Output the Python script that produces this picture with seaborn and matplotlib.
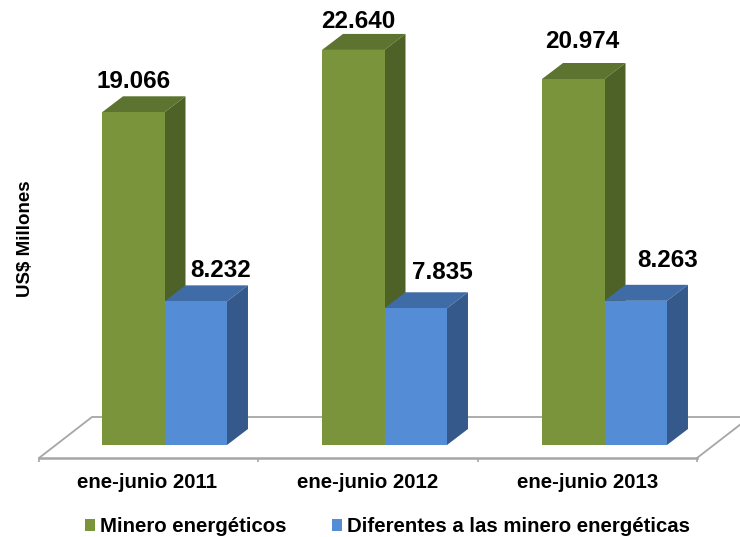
import numpy as np
import pandas as pd
import seaborn as sns
import matplotlib.pyplot as plt
from matplotlib.patches import Polygon

# Chart data
periods = ["ene-junio 2011", "ene-junio 2012", "ene-junio 2013"]
series_names = ["Minero energéticos", "Diferentes a las minero energéticas"]
minero = [19.066, 22.640, 20.974]
diferentes = [8.232, 7.835, 8.263]

# Colours: front, top and side of each series
front_colors = ["#7A943C", "#558CD6"]
top_colors = ["#5D7430", "#3F6CA6"]
side_colors = ["#4E6127", "#35598A"]
floor_color = "#A6A6A6"

# Hand placed offsets of the value labels, in pixels from the top of the bar
label_offsets = [[(0, 31), (5, 28), (9, 38)], [(25, 31), (27, 36), (32, 40)]]

sns.set_theme(style="white")
plt.rcParams["font.family"] = ["Liberation Sans", "DejaVu Sans"]
plt.rcParams["font.weight"] = "bold"

df = pd.DataFrame({
    "periodo": periods * 2,
    "serie": [series_names[0]] * 3 + [series_names[1]] * 3,
    "valor": minero + diferentes,
})

W, H = 740, 537
fig = plt.figure(figsize=(W / 100, H / 100), dpi=100)
# Axes box: left 39, right 697, bottom edge 458 (floor front edge), top of figure
ax = fig.add_axes([39 / W, (H - 458) / H, (697 - 39) / W, 458 / H])
ax.patch.set_alpha(0)

sns.barplot(data=df, x="periodo", y="valor", hue="serie", palette=front_colors,
            width=0.568, gap=0, saturation=1, linewidth=0, zorder=3, ax=ax)

# Scales: 220 px per category, 17.45 px per unit, bar base 13 px above the floor edge
px_x = 220
px_y = 17.45
ax.set_xlim((39 - 164.5) / px_x, (697 - 164.5) / px_x)
ax.set_ylim(-13 / px_y, 445 / px_y)

# Depth of the bars
dx = 21 / px_x
dy = 16 / px_y

for s, container in enumerate(ax.containers):
    for patch, offset in zip(container.patches, label_offsets[s]):
        x0 = patch.get_x()
        x1 = x0 + patch.get_width()
        h = patch.get_height()
        top = [(x0, h), (x1, h), (x1 + dx, h + dy), (x0 + dx, h + dy)]
        side = [(x1, 0), (x1 + dx, dy), (x1 + dx, h + dy), (x1, h)]
        ax.add_patch(Polygon(top, fc=top_colors[s], ec="none", zorder=s + 1, clip_on=False))
        ax.add_patch(Polygon(side, fc=side_colors[s], ec="none", zorder=s + 1, clip_on=False))
        ax.annotate(f"{h:.3f}", ((x0 + x1) / 2, h), xytext=offset, textcoords="offset pixels",
                    ha="center", va="center", fontsize=17.5, fontweight="bold",
                    color="black", annotation_clip=False, zorder=5)

# Floor of the 3D chart
x_left, x_right = ax.get_xlim()
y_front = ax.get_ylim()[0]
floor_dx = 53 / px_x
floor_dy = 41 / px_y
ax.plot([x_left, x_left + floor_dx, x_right + floor_dx],
        [y_front, y_front + floor_dy, y_front + floor_dy],
        color=floor_color, lw=1.3, zorder=0.5, clip_on=False)
ax.plot([x_right, x_right + floor_dx], [y_front, y_front + floor_dy],
        color=floor_color, lw=1.3, zorder=0.5, clip_on=False)

# Axis
sns.despine(ax=ax, left=True, top=True, right=True)
ax.spines["bottom"].set_color(floor_color)
ax.spines["bottom"].set_linewidth(1.8)
ax.set_yticks([])
ax.set_xticks(np.arange(3) - 0.077, labels=periods)
ax.set_xticks(x_left + np.arange(4) * (x_right - x_left) / 3, minor=True)
ax.tick_params(axis="x", which="major", length=0, pad=11, labelsize=14.7, labelcolor="black")
ax.tick_params(axis="x", which="minor", bottom=True, length=3, width=1.2, color=floor_color)
ax.set_xlabel("")
ax.set_ylabel("US$ Millones", fontsize=13.5, fontweight="bold", color="black")
ax.yaxis.set_label_coords((34 - 39) / 658, (458 - 239) / 458)

sns.move_legend(ax, "lower left", bbox_to_anchor=((85 - 39) / 658, -78 / 458), ncol=2, title=None,
                frameon=False, fontsize=14.7, handlelength=0.5, handleheight=0.5,
                handletextpad=0.25, columnspacing=2.2, borderpad=0, borderaxespad=0,
                labelcolor="black")

fig.savefig("out.png", dpi=100)
